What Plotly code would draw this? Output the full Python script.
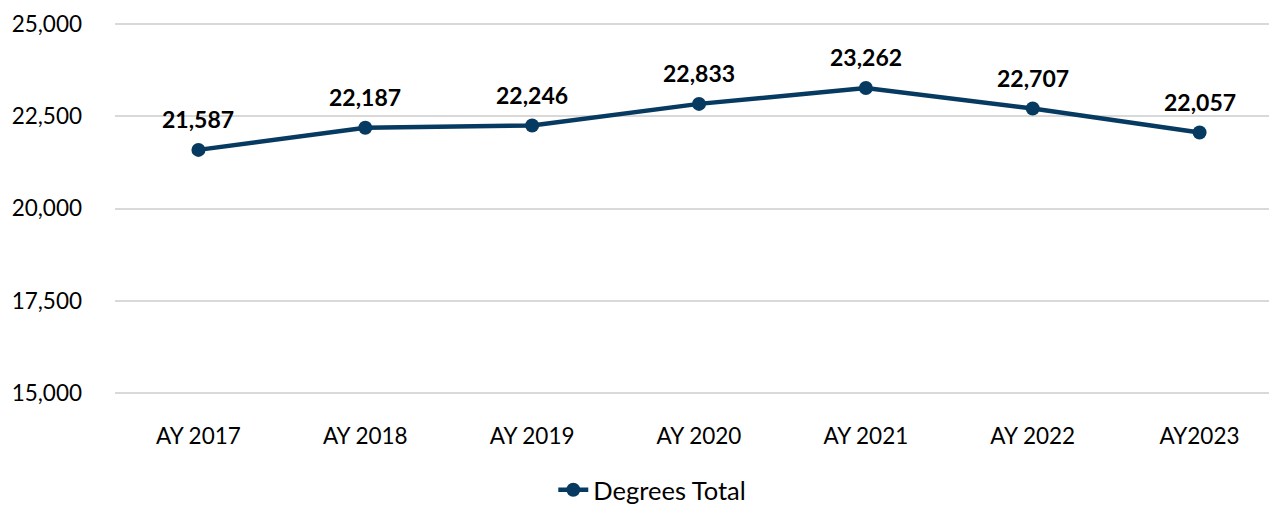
import plotly.graph_objects as go

categories = ["AY 2017", "AY 2018", "AY 2019", "AY 2020", "AY 2021", "AY 2022", "AY2023"]
degrees_total = [21587, 22187, 22246, 22833, 23262, 22707, 22057]
y_ticks = [15000, 17500, 20000, 22500, 25000]

color = "#073A61"
font_family = "Lato, 'Open Sans', sans-serif"

fig = go.Figure()
fig.add_trace(go.Scatter(
    x=categories, y=degrees_total, mode="lines+markers", name="Degrees Total",
    line=dict(color=color, width=4.5), marker=dict(color=color, size=14),
))
for c, v in zip(categories, degrees_total):
    fig.add_annotation(x=c, y=v, text=f"<b>{v:,}</b>", showarrow=False,
                       yshift=31, font=dict(size=23, color="black", family=font_family))

fig.update_layout(
    width=1277, height=508,
    margin=dict(l=107, r=2, t=12, b=120),
    paper_bgcolor="white", plot_bgcolor="white",
    font=dict(family=font_family, size=22.5, color="black"),
    showlegend=True,
    legend=dict(orientation="h", x=0.46, xanchor="center", y=-0.255, yanchor="middle",
                font=dict(size=25.5)),
    xaxis=dict(showgrid=False, showline=False, ticks="", ticklabelstandoff=25,
               range=[-0.5, len(categories) - 0.5]),
    yaxis=dict(range=[14950, 25050], tickvals=y_ticks, tickformat=",",
               showgrid=True, gridcolor="#D9D9D9", gridwidth=1.5, zeroline=False,
               showline=False, ticks="", ticklabelstandoff=32,
               ticklabeloverflow="allow"),
)
fig.write_html("out.html")
